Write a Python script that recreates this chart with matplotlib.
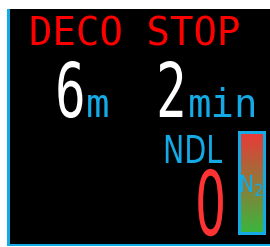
import numpy as np
import matplotlib
matplotlib.use("Agg")
import matplotlib.pyplot as plt
from matplotlib.patches import Rectangle
from matplotlib.patheffects import AbstractPathEffect
from matplotlib.transforms import Affine2D
from matplotlib.colors import LinearSegmentedColormap

# display values
title = "DECO STOP"
stop_depth = 6
depth_unit = "m"
stop_time = 2
time_unit = "min"
ndl_label = "NDL"
ndl_value = 0
gas_label = r"$\mathregular{N_2}$"

BLUE = "#14aae6"
RED = "#ff0000"


class Tall(AbstractPathEffect):
    # stretch glyphs upward from the baseline, like the condensed LCD font
    def __init__(self, sy):
        super().__init__()
        self.sy = sy

    def draw_path(self, renderer, gc, tpath, affine, rgbFace=None):
        renderer.draw_path(gc, tpath, Affine2D().scale(1, self.sy) + affine, rgbFace)


def px(p):
    return p * 72 / 100


fig = plt.figure(figsize=(2.70, 2.47), dpi=100)
fig.patch.set_facecolor("white")
ax = fig.add_axes([0, 0, 1, 1])
ax.set_xlim(0, 270)
ax.set_ylim(247, 0)
ax.axis("off")

# screen
ax.add_patch(Rectangle((10, 9), 260, 235, facecolor="black", edgecolor="none"))
ax.add_patch(Rectangle((7, 9), 3, 237, facecolor=BLUE, edgecolor="none"))
ax.add_patch(Rectangle((7, 244), 263, 2, facecolor=BLUE, edgecolor="none"))

mono = "DejaVu Sans Mono"
sans = "DejaVu Sans"

ax.text(29, 45, title, color=RED, family=mono, fontsize=px(39), va="baseline", ha="left")

ax.text(55, 117, str(stop_depth), color="white", family=mono, fontsize=px(51),
        va="baseline", ha="left", path_effects=[Tall(1.48)])
ax.text(86, 117, depth_unit, color=BLUE, family=mono, fontsize=px(39), va="baseline", ha="left")
ax.text(156, 117, str(stop_time), color="white", family=mono, fontsize=px(51),
        va="baseline", ha="left", path_effects=[Tall(1.48)])
ax.text(188, 117, time_unit, color=BLUE, family=mono, fontsize=px(39), va="baseline", ha="left")

ax.text(163, 163, ndl_label, color=BLUE, family=sans, fontsize=px(28.5),
        va="baseline", ha="left", path_effects=[Tall(1.35)])
ax.text(195, 235, str(ndl_value), color="#ff3333", family=sans, fontsize=px(49),
        va="baseline", ha="left", path_effects=[Tall(1.82)])

# nitrogen loading bar
ax.add_patch(Rectangle((238, 131), 28, 104, facecolor=BLUE, edgecolor="none"))
grad = LinearSegmentedColormap.from_list("n2", ["#e63c37", "#3cb43c"])
ys = np.linspace(134, 232, 50)
ax.pcolormesh([241, 263], ys, np.linspace(0, 1, 49).reshape(-1, 1), cmap=grad,
              shading="flat", zorder=2, edgecolors="none", antialiased=False)
ax.text(239, 192, gas_label, color=BLUE, family=sans, fontsize=px(20),
        va="baseline", ha="left", zorder=3, path_effects=[Tall(1.17)])

fig.savefig("out.png", dpi=100, facecolor="white")
